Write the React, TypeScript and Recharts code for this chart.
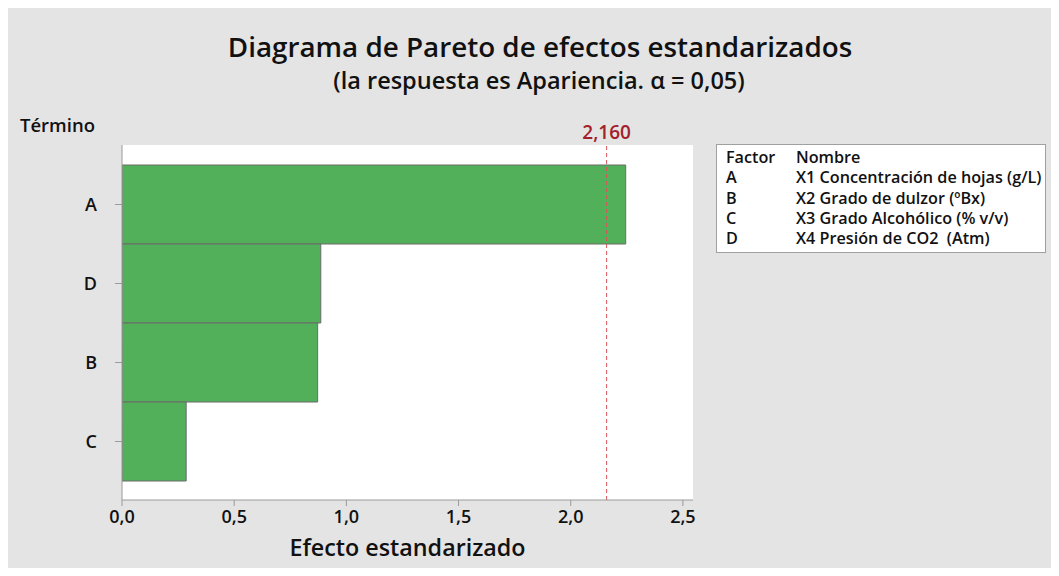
import { BarChart, Bar, XAxis, YAxis, CartesianGrid, ReferenceLine } from "recharts"

const terms = ["A", "D", "B", "C"]
const effects = [2.245, 0.886, 0.872, 0.286]
const xTicks = [0, 0.5, 1, 1.5, 2, 2.5]
const criticalValue = 2.16
const factorCodes = ["A", "B", "C", "D"]
const factorNames = [
  "X1 Concentración de hojas (g/L)",
  "X2 Grado de dulzor (ºBx)",
  "X3 Grado Alcohólico (% v/v)",
  "X4 Presión de CO2  (Atm)",
]

const rows = terms.map((term, i) => ({ term, effect: effects[i] }))

const FONT = "'Open Sans', 'Noto Sans', sans-serif"
const comma = (v: number) => v.toFixed(1).replace(".", ",")

export default function App() {
  return (
    <div
      style={{
        position: "relative",
        width: 1051,
        height: 568,
        marginBottom: -8,
        background: "#e4e4e4",
        fontFamily: FONT,
        color: "#111",
      }}
    >
      <div style={{ position: "absolute", left: 0, width: 1064, top: 20, textAlign: "center", fontSize: 27.8, fontWeight: 600, lineHeight: "36px" }}>
        Diagrama de Pareto de efectos estandarizados
      </div>
      <div style={{ position: "absolute", left: 0, width: 1062, top: 57, textAlign: "center", fontSize: 23.5, fontWeight: 600, lineHeight: "30px" }}>
        (la respuesta es Apariencia. α = 0,05)
      </div>
      <div style={{ position: "absolute", left: 12, top: 104, fontSize: 18.5, fontWeight: 600, lineHeight: "26px" }}>Término</div>

      <BarChart
        width={1051}
        height={568}
        data={rows}
        layout="vertical"
        barCategoryGap={0}
        margin={{ top: 137, right: 366, left: 74, bottom: 46 }}
        style={{ position: "absolute", left: 0, top: 0 }}
      >
        <CartesianGrid horizontal={false} vertical={false} fill="#ffffff" />
        <XAxis
          type="number"
          domain={[0, 2.545]}
          ticks={xTicks}
          tickFormatter={comma}
          height={30}
          stroke="#9a9a9a"
          tickSize={6}
          tickMargin={4}
          tick={{ fontSize: 18, fontWeight: 600, fill: "#111", fontFamily: FONT }}
          allowDataOverflow
        />
        <XAxis xAxisId="top" type="number" orientation="top" domain={[0, 2.545]} height={0} tick={false} tickLine={false} stroke="#9a9a9a" />
        <YAxis
          type="category"
          dataKey="term"
          width={40}
          padding={{ top: 20, bottom: 19 }}
          stroke="#9a9a9a"
          tickSize={7}
          tickMargin={18}
          tick={{ fontSize: 18, fontWeight: 600, fill: "#111", fontFamily: FONT }}
        />
        <YAxis yAxisId="right" type="category" orientation="right" width={0} tick={false} tickLine={false} stroke="#9a9a9a" />
        <Bar dataKey="effect" fill="#52b05a" stroke="#6a6a6a" strokeWidth={1} isAnimationActive={false} />
        <ReferenceLine
          x={criticalValue}
          stroke="#d9545a"
          strokeDasharray="4 3"
          label={{ value: "2,160", position: "top", offset: 6, fill: "#a3212a", fontSize: 19, fontWeight: 600, fontFamily: FONT }}
        />
      </BarChart>

      <div
        style={{
          position: "absolute",
          left: 708,
          top: 136,
          width: 330,
          height: 109,
          background: "#fff",
          border: "1px solid #a0a0a0",
          fontSize: 16.2,
          fontWeight: 600,
          lineHeight: "20.3px",
          boxSizing: "border-box",
          paddingTop: 2,
        }}
      >
        {["Factor", ...factorCodes].map((code, i) => (
          <div key={code} style={{ display: "flex", whiteSpace: "pre" }}>
            <span style={{ width: 70, paddingLeft: 9 }}>{code}</span>
            <span>{i === 0 ? "Nombre" : factorNames[i - 1]}</span>
          </div>
        ))}
      </div>

      <div style={{ position: "absolute", left: 114, width: 571, top: 523, textAlign: "center", fontSize: 23.3, fontWeight: 600, lineHeight: "32px" }}>
        Efecto estandarizado
      </div>
    </div>
  )
}
